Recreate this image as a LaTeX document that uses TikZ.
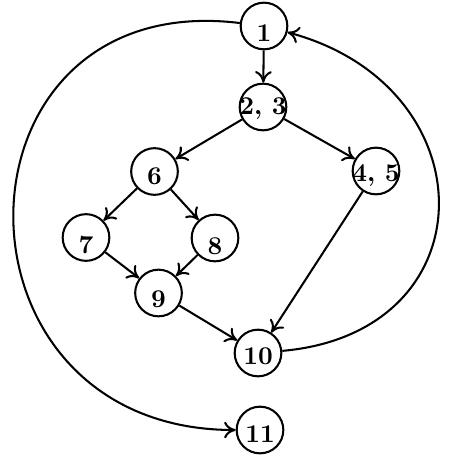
\documentclass[tikz,border=0pt]{standalone}
\usetikzlibrary{arrows.meta}
\newcommand\lb[2]{\makebox[0pt]{\raisebox{#1}[0pt][0pt]{#2}}}
\begin{document}
\begin{tikzpicture}[x=0.39pt,y=-0.39pt,
  st/.style={circle,draw,line width=0.8pt,minimum size=18.2pt,inner sep=0pt,font=\bfseries},
  ed/.style={line width=0.8pt,-{To[length=4.5pt,width=6.5pt]}}]
\useasboundingbox (0,0) rectangle (450,465);
\node[st] (n1)  at (264,26)    {\lb{-5.95pt}{1}};
\node[st] (n23) at (263,107)   {\lb{-2.83pt}{2, 3}};
\node[st] (n45) at (376,171)   {\lb{-4.2pt}{4, 5}};
\node[st] (n6)  at (154.5,171.5) {\lb{-5.17pt}{6}};
\node[st] (n7)  at (86,237.5)  {\lb{-6.34pt}{7}};
\node[st] (n8)  at (215,238)   {\lb{-6.34pt}{8}};
\node[st] (n9)  at (158.5,293) {\lb{-5.56pt}{9}};
\node[st] (n10) at (258,353)   {\lb{-4.39pt}{10}};
\node[st] (n11) at (260,430)   {\lb{-4.78pt}{11}};
\draw[ed] (n1) -- (n23);
\draw[ed] (n23) -- (n6);
\draw[ed] (n23) -- (n45);
\draw[ed] (n6) -- (n7);
\draw[ed] (n6) -- (n8);
\draw[ed] (n7) -- (n9);
\draw[ed] (n8) -- (n9);
\draw[ed] (n9) -- (n10);
\draw[ed] (n45) -- (n10);
\draw[ed] (n10) to[out=5,in=-15,out distance=81.5pt,in distance=81.5pt] (n1);
\draw[ed] (n1) to[out=173,in=180,out distance=117pt,in distance=117pt] (n11);
\end{tikzpicture}
\end{document}
